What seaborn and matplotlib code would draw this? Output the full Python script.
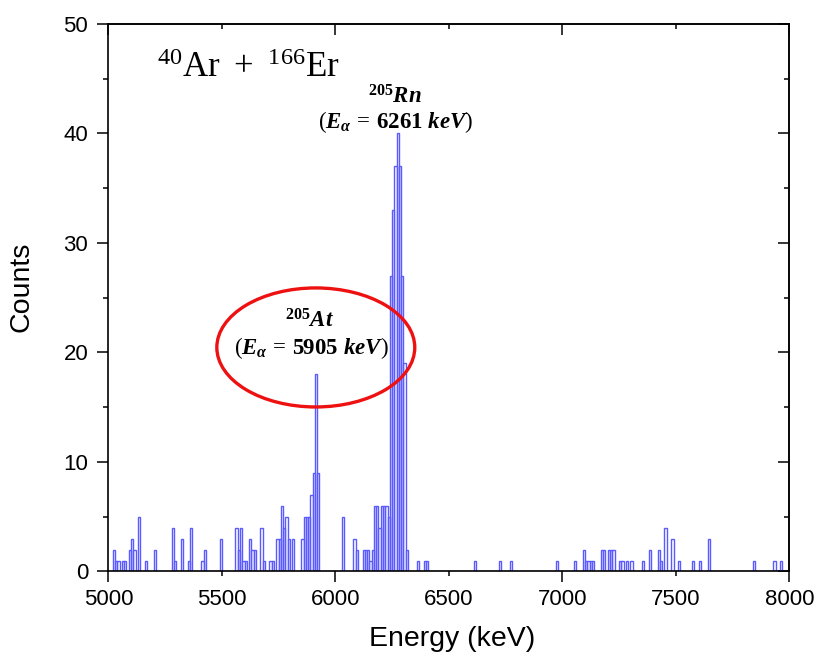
import numpy as np
import pandas as pd
import matplotlib
matplotlib.use("Agg")
import matplotlib.pyplot as plt
from matplotlib.patches import Ellipse
from matplotlib.ticker import MultipleLocator, FixedLocator, NullFormatter, FuncFormatter
import seaborn as sns

# ---- data (10 keV bins, left edge of each non-empty bin) ----
bin_left_keV = [5020, 5030, 5040, 5060, 5070, 5090, 5100, 5110, 5130, 5160, 5200,
                5280, 5290, 5320, 5350, 5360, 5410, 5420, 5490,
                5560, 5570, 5580, 5590, 5600, 5620, 5630, 5640, 5670, 5680,
                5710, 5720, 5740, 5750, 5760, 5770, 5780, 5790, 5810,
                5850, 5860, 5870, 5880, 5890, 5900, 5910, 5920,
                6030, 6080, 6090, 6120, 6130, 6140, 6150, 6160,
                6170, 6180, 6190, 6200, 6210, 6220, 6230,
                6240, 6250, 6260, 6270, 6280, 6290, 6300, 6310,
                6360, 6390, 6400, 6610, 6720, 6770, 6970, 7050,
                7090, 7100, 7110, 7120, 7130, 7170, 7180, 7200, 7210, 7220,
                7250, 7260, 7280, 7300, 7350, 7380, 7420, 7430, 7450, 7480,
                7510, 7570, 7600, 7640, 7840, 7930, 7960]
counts = [2, 1, 1, 1, 1, 2, 3, 2, 5, 1, 2,
          4, 1, 3, 1, 4, 1, 2, 3,
          4, 2, 4, 1, 1, 3, 2, 2, 4, 1,
          1, 1, 3, 3, 6, 4, 5, 3, 3,
          3, 5, 5, 5, 7, 9, 18, 9,
          5, 3, 2, 2, 2, 2, 1, 2,
          6, 6, 4, 6, 6, 6, 5,
          27, 33, 37, 40, 37, 27, 19, 2,
          1, 1, 1, 1, 1, 1, 1, 1,
          2, 1, 1, 1, 1, 2, 2, 2, 2, 2,
          1, 1, 1, 1, 1, 2, 2, 1, 4, 3,
          1, 1, 1, 3, 1, 1, 1]
bin_width_keV = 10
x_range = (5000, 8000)
y_range = (0, 50)
x_tick_labels = ["5000", "5500", "6000", "6500", "7000", "7500", "8000"]
y_tick_labels = ["0", "10", "20", "30", "40", "50"]

df = pd.DataFrame({"energy": np.array(bin_left_keV, dtype=float) + bin_width_keV / 2,
                   "counts": np.array(counts, dtype=float)})

sns.set_theme(style="ticks")
plt.rcParams["font.family"] = ["Liberation Sans", "DejaVu Sans"]
plt.rcParams["text.color"] = "black"
plt.rcParams["mathtext.fontset"] = "custom"
plt.rcParams["mathtext.rm"] = "Liberation Serif"
plt.rcParams["mathtext.it"] = "Liberation Serif:italic:bold"
plt.rcParams["mathtext.bf"] = "Liberation Serif:bold"

fig = plt.figure(figsize=(8.17, 6.59), dpi=100)
ax = fig.add_axes([0.1326, 0.1328, 0.8335, 0.8308])

sns.histplot(data=df, x="energy", weights="counts",
             binwidth=bin_width_keV, binrange=x_range,
             element="bars", fill=False, color="#5a5aff", linewidth=1.0, ax=ax)

ax.set_xlim(*x_range)
ax.set_ylim(*y_range)

# ticks: majors every 1000 / 10, labelled minors at 500 offsets / 5
ax.xaxis.set_major_locator(FixedLocator([5000, 6000, 7000, 8000]))
ax.xaxis.set_minor_locator(FixedLocator([5500, 6500, 7500]))
lab = {int(v): v for v in x_tick_labels}
ax.xaxis.set_major_formatter(FuncFormatter(lambda v, p: lab.get(int(round(v)), "")))
ax.xaxis.set_minor_formatter(FuncFormatter(lambda v, p: lab.get(int(round(v)), "")))
ax.yaxis.set_major_locator(FixedLocator([int(v) for v in y_tick_labels]))
ax.yaxis.set_minor_locator(MultipleLocator(5))
ax.yaxis.set_minor_formatter(NullFormatter())

ax.tick_params(axis="x", which="major", direction="out", length=8, width=1.1,
               labelsize=16, colors="black", pad=4.5)
ax.tick_params(axis="x", which="minor", direction="out", length=3.8, width=1.1,
               labelsize=16, colors="black", pad=8.7)
ax.tick_params(axis="y", which="major", direction="out", length=8, width=1.1,
               labelsize=16, colors="black", pad=6.5)
ax.tick_params(axis="y", which="minor", direction="out", length=3.8, width=1.1,
               colors="black")

for s in ax.spines.values():
    s.set_visible(True)
    s.set_linewidth(1.2)
    s.set_color("black")

top = ax.secondary_xaxis("top")
top.xaxis.set_major_locator(FixedLocator([5000, 6000, 7000, 8000]))
top.xaxis.set_minor_locator(FixedLocator([5500, 6500, 7500]))
top.tick_params(which="major", direction="in", length=8, width=1.1, labeltop=False,
                colors="black")
top.tick_params(which="minor", direction="in", length=3.8, width=1.1, colors="black")
top.xaxis.set_major_formatter(NullFormatter())
right = ax.secondary_yaxis("right")
right.yaxis.set_major_locator(FixedLocator([0, 10, 20, 30, 40, 50]))
right.yaxis.set_minor_locator(MultipleLocator(5))
right.tick_params(which="major", direction="in", length=8, width=1.1, labelright=False,
                  colors="black")
right.tick_params(which="minor", direction="in", length=3.8, width=1.1, colors="black")
right.yaxis.set_major_formatter(NullFormatter())

ax.set_xlabel("Energy (keV)", fontsize=20.5, color="black")
ax.set_ylabel("Counts", fontsize=20.5, color="black")
ax.xaxis.set_label_coords(0.5047, -0.1)
ax.yaxis.set_label_coords(-0.108, 0.5205)

# annotations
ax.text(5615, 45.2, r"$^{40}\mathrm{Ar}\ +\ {}^{166}\mathrm{Er}$", fontsize=25,
        ha="center", va="baseline", color="black")
ax.text(6263, 42.75, r"$^{\mathbf{205}}Rn$", fontsize=16.5, ha="center",
        va="baseline", color="black")
ax.text(6265, 41.05, r"$(E_{\alpha}\,=\,\mathbf{6261}\ keV)$", fontsize=16.5,
        ha="center", va="center", color="black")
ax.text(5884, 22.25, r"$^{\mathbf{205}}At$", fontsize=16.5, ha="center",
        va="baseline", color="black")
ax.text(5893, 20.4, r"$(E_{\alpha}\,=\,\mathbf{5905}\ keV)$", fontsize=16.5,
        ha="center", va="center", color="black")
ax.add_patch(Ellipse((5914, 20.46), width=872, height=10.87, fill=False,
                     edgecolor="#ee1111", linewidth=2.4, zorder=5))

fig.savefig("out.png", dpi=100)
